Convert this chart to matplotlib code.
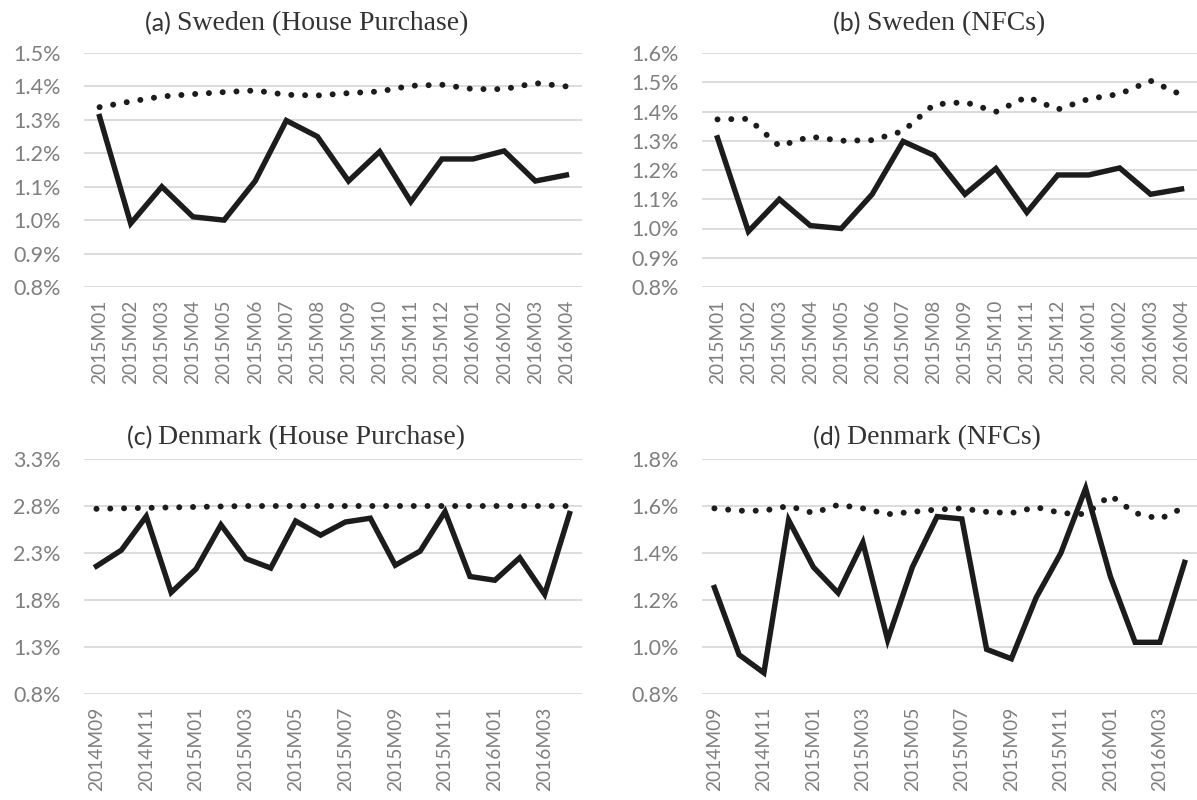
import matplotlib
matplotlib.use("Agg")
import matplotlib.pyplot as plt
from matplotlib.ticker import FixedLocator, FuncFormatter

# monthly categories
months_se = ["2015M01", "2015M02", "2015M03", "2015M04", "2015M05", "2015M06",
             "2015M07", "2015M08", "2015M09", "2015M10", "2015M11", "2015M12",
             "2016M01", "2016M02", "2016M03", "2016M04"]
months_dk = ["2014M09", "2014M10", "2014M11", "2014M12", "2015M01", "2015M02",
             "2015M03", "2015M04", "2015M05", "2015M06", "2015M07", "2015M08",
             "2015M09", "2015M10", "2015M11", "2015M12", "2016M01", "2016M02",
             "2016M03", "2016M04"]

# Sweden, house purchase
se_house_solid = [1.31, 0.99, 1.10, 1.01, 1.00, 1.117, 1.298, 1.25, 1.117, 1.205,
                  1.055, 1.183, 1.183, 1.207, 1.117, 1.135]
se_house_dot = [1.338, 1.355, 1.37, 1.377, 1.383, 1.388, 1.375, 1.373, 1.38, 1.385,
                1.402, 1.405, 1.392, 1.392, 1.41, 1.40]

# Sweden, NFCs
se_nfc_solid = [1.31, 0.99, 1.10, 1.01, 1.00, 1.117, 1.298, 1.25, 1.117, 1.205,
                1.055, 1.183, 1.183, 1.207, 1.117, 1.135]
se_nfc_dot = [1.373, 1.375, 1.282, 1.314, 1.30, 1.302, 1.333, 1.424, 1.432, 1.399,
              1.45, 1.407, 1.443, 1.46, 1.505, 1.457]

# Denmark, house purchase
dk_house_solid = [2.16, 2.33, 2.69, 1.88, 2.13, 2.60, 2.24, 2.14, 2.64, 2.49,
                  2.63, 2.67, 2.17, 2.32, 2.74, 2.05, 2.01, 2.25, 1.86, 2.72]
dk_house_dot = [2.77, 2.775, 2.78, 2.785, 2.79, 2.795, 2.80, 2.80, 2.80, 2.80,
                2.80, 2.80, 2.80, 2.80, 2.80, 2.80, 2.80, 2.80, 2.80, 2.80]

# Denmark, NFCs
dk_nfc_solid = [1.253, 0.967, 0.89, 1.54, 1.34, 1.23, 1.445, 1.03, 1.34, 1.555,
                1.545, 0.99, 0.95, 1.21, 1.40, 1.675, 1.30, 1.02, 1.02, 1.36]
dk_nfc_dot = [1.59, 1.58, 1.58, 1.60, 1.57, 1.605, 1.59, 1.565, 1.575, 1.585,
              1.59, 1.575, 1.57, 1.595, 1.57, 1.565, 1.645, 1.57, 1.545, 1.595]

ticks_a = [0.8, 0.9, 1.0, 1.1, 1.2, 1.3, 1.4, 1.5]
ticks_b = [0.8, 0.9, 1.0, 1.1, 1.2, 1.3, 1.4, 1.5, 1.6]
ticks_c = [0.8, 1.3, 1.8, 2.3, 2.8, 3.3]
ticks_d = [0.8, 1.0, 1.2, 1.4, 1.6, 1.8]

W, H = 1197, 800
fig = plt.figure(figsize=(W / 100, H / 100), dpi=100)

LABEL_FONT = "Lato"
TITLE_FONT = "Liberation Serif"
GRAY = "#7f7f7f"
INK = "#1c1c1c"


def add_panel(box, cats, solid, dot, yticks, label_every, tag, rest, tx, ty):
    l, t, r, b = box
    ax = fig.add_axes([l / W, 1 - b / H, (r - l) / W, (b - t) / H])
    x = list(range(len(cats)))
    ax.set_xlim(-0.5, len(cats) - 0.5)
    ax.set_ylim(yticks[0], yticks[-1])
    for v in yticks:
        ax.axhline(v, color="#d9d9d9", lw=1.3, zorder=1)
    ax.plot(x, solid, color=INK, lw=3.9, solid_joinstyle="miter", zorder=3)
    ax.plot(x, dot, color=INK, lw=4.3, linestyle=(0, (0.01, 2.3)),
            dash_capstyle="round", zorder=3)
    for s in ax.spines.values():
        s.set_visible(False)
    ax.yaxis.set_major_locator(FixedLocator(yticks))
    ax.yaxis.set_major_formatter(FuncFormatter(lambda v, p: "%.1f%%" % v))
    ax.set_xticks(x[::label_every])
    ax.set_xticklabels(cats[::label_every], rotation=90, va="top", ha="center")
    ax.tick_params(axis="both", length=0, colors=GRAY)
    ax.tick_params(axis="y", pad=17, labelsize=15.5)
    ax.tick_params(axis="x", pad=9, labelsize=13.8)
    for lab in ax.get_xticklabels() + ax.get_yticklabels():
        lab.set_fontfamily(LABEL_FONT)
        lab.set_color(GRAY)

    # title: tag in sans, the rest in serif, centred on tx
    t1 = fig.text(0, 0, tag + " ", fontsize=18, family=LABEL_FONT, color="#333333",
                  va="center")
    t2 = fig.text(0, 0, rest, fontsize=20, family=TITLE_FONT, color="#333333",
                  va="center")
    rend = fig.canvas.get_renderer()
    w1 = t1.get_window_extent(rend).width
    w2 = t2.get_window_extent(rend).width
    x0 = tx - (w1 + w2) / 2
    t1.set_position((x0 / W, 1 - ty / H))
    t2.set_position(((x0 + w1) / W, 1 - ty / H))
    return ax


add_panel((84, 53, 582, 287), months_se, se_house_solid, se_house_dot, ticks_a, 1,
          "(a)", "Sweden (House Purchase)", 307, 24)
add_panel((702, 53, 1197, 287), months_se, se_nfc_solid, se_nfc_dot, ticks_b, 1,
          "(b)", "Sweden (NFCs)", 939, 24)
add_panel((84, 459, 582, 694), months_dk, dk_house_solid, dk_house_dot, ticks_c, 2,
          "(c)", "Denmark (House Purchase)", 296, 438)
add_panel((702, 459, 1197, 694), months_dk, dk_nfc_solid, dk_nfc_dot, ticks_d, 2,
          "(d)", "Denmark (NFCs)", 927, 438)

fig.savefig("out.png", dpi=100, facecolor="white")
